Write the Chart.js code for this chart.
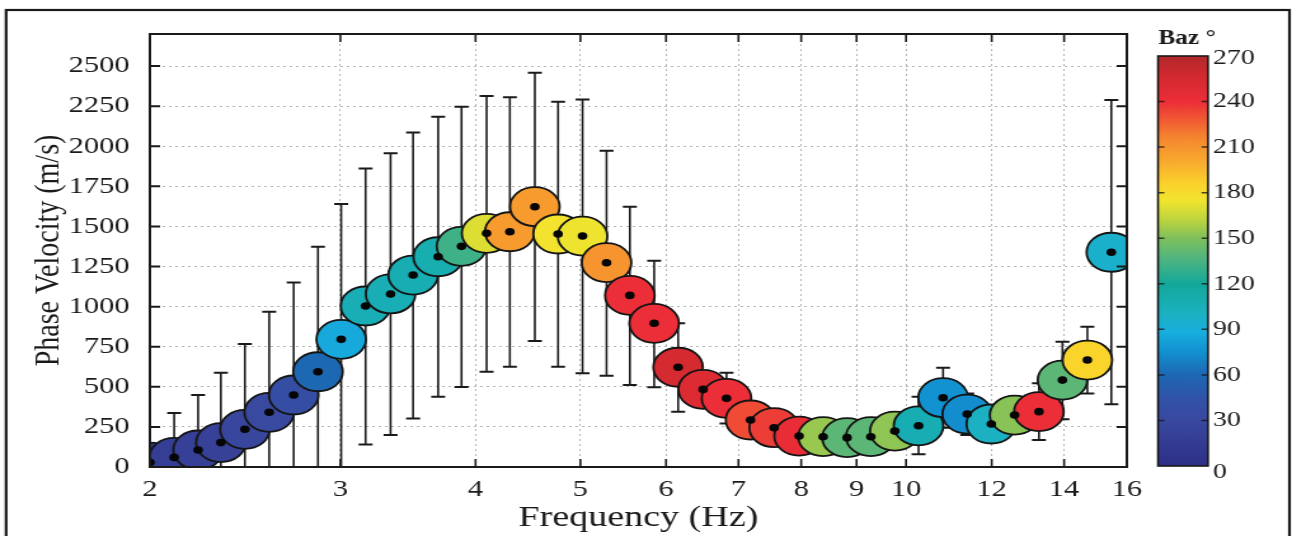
<!DOCTYPE html>
<html><head><meta charset="utf-8">
<script src="https://cdn.jsdelivr.net/npm/chart.js@4/dist/chart.umd.min.js"></script>
<style>
html,body{margin:0;padding:0;background:#fff;overflow:hidden;width:1292px;height:536px}
#c{display:block;transform-origin:0 0;transform:scaleX(1.27040)}
</style></head><body>
<canvas id="c" width="1017" height="536"></canvas>
<script>
// ---- data ----
const frequency = [2.00,2.106,2.216,2.326,2.448,2.578,2.716,2.860,3.005,3.165,3.338,3.502,3.694,3.882,4.095,4.303,4.538,4.768,5.023,5.286,5.555,5.850,6.156,6.493,6.824,7.182,7.552,7.964,8.382,8.820,9.278,9.764,10.27,10.82,11.39,11.99,12.60,13.27,13.95,14.71,15.48];
const velocity  = [30,60,106,152,235,341,449,594,796,1004,1079,1197,1311,1376,1457,1467,1623,1453,1440,1274,1070,896,622,484,428,293,245,193,189,183,189,224,257,432,330,268,324,345,542,667,1339];
const baz       = [15,18,20,22,28,32,38,60,86,106,106,108,110,132,170,207,207,176,174,210,240,240,255,250,240,232,236,242,155,140,140,153,108,76,74,100,152,240,140,184,96];
const errHigh   = [null,337,449,588,767,968,1151,1373,1640,1862,1956,2086,2184,2246,2313,2305,2458,2277,2292,1972,1623,1286,896,560,588,380,300,null,null,null,null,null,438,619,459,null,null,522,781,875,2288];
const errLow    = [null,-217,-237,-284,-297,-286,-253,-185,-48,141,200,303,438,499,594,625,786,625,584,569,511,497,345,410,272,210,190,null,null,null,null,null,79,245,200,null,null,168,297,459,391];
const xTicks = [2,3,4,5,6,7,8,9,10,12,14,16];
const yTicks = [0,250,500,750,1000,1250,1500,1750,2000,2250,2500];
const bazTicks = [0,30,60,90,120,150,180,210,240,270];
const bazStops = [[0,'#2d2f86'],[30,'#3a489f'],[45,'#3053a8'],[60,'#1d68b3'],[75,'#1290d0'],[88,'#18aede'],[100,'#1bb1c2'],[120,'#14a899'],[135,'#4ab383'],[150,'#7fc05c'],[162,'#bcd43e'],[175,'#f2e52e'],[186,'#fbd12c'],[200,'#f8ab2e'],[215,'#f5892f'],[240,'#ec2e38'],[255,'#d52a30'],[270,'#b2282b']];

function hex(c){return [parseInt(c.slice(1,3),16),parseInt(c.slice(3,5),16),parseInt(c.slice(5,7),16)];}
function colorFor(b){
  for(let k=1;k<bazStops.length;k++){
    if(b<=bazStops[k][0]){
      const a=hex(bazStops[k-1][1]), c=hex(bazStops[k][1]);
      const t=(b-bazStops[k-1][0])/(bazStops[k][0]-bazStops[k-1][0]);
      return 'rgb('+a.map((v,i)=>Math.round(v+(c[i]-v)*t)).join(',')+')';
    }
  }
  return bazStops[bazStops.length-1][1];
}

const S = 1292/1017;
const FONT = 'Liberation Serif';
const pts = frequency.map((f,i)=>({x:f,y:velocity[i]}));

const decor = {
  id:'decor',
  beforeDatasetsDraw(chart){
    const {ctx, chartArea:a, scales:{x,y}} = chart;
    ctx.save();
    ctx.beginPath(); ctx.rect(a.left,a.top,a.right-a.left,a.bottom-a.top); ctx.clip();
    ctx.strokeStyle='#1a1a1a';
    for(let i=0;i<frequency.length;i++){
      if(errHigh[i]==null) continue;
      const px=x.getPixelForValue(frequency[i]);
      const yt=y.getPixelForValue(errHigh[i]), yb=y.getPixelForValue(errLow[i]);
      ctx.lineWidth=1.6;
      ctx.beginPath(); ctx.moveTo(px,yt); ctx.lineTo(px,yb); ctx.stroke();
      ctx.lineWidth=2;
      ctx.beginPath(); ctx.moveTo(px-5.5,yt); ctx.lineTo(px+5.5,yt);
      ctx.moveTo(px-5.5,yb); ctx.lineTo(px+5.5,yb); ctx.stroke();
    }
    ctx.restore();
  },
  afterDraw(chart){
    const {ctx, chartArea:a, scales:{x,y}} = chart;
    ctx.save();
    ctx.strokeStyle='#1a1a1a';
    ctx.lineWidth=1.6;
    ctx.beginPath();
    xTicks.forEach(v=>{const px=x.getPixelForValue(v);
      ctx.moveTo(px,a.bottom); ctx.lineTo(px,a.bottom-8);
      ctx.moveTo(px,a.top); ctx.lineTo(px,a.top+8);});
    ctx.stroke();
    ctx.lineWidth=2;
    ctx.beginPath();
    yTicks.forEach(v=>{const py=y.getPixelForValue(v);
      ctx.moveTo(a.left,py); ctx.lineTo(a.left+8,py);
      ctx.moveTo(a.right,py); ctx.lineTo(a.right-8,py);});
    ctx.stroke();
    ctx.lineWidth=2;
    ctx.strokeRect(a.left,a.top,a.right-a.left,a.bottom-a.top);
    ctx.lineWidth=2.2;
    ctx.strokeRect(4.8,10,1015-4.8,540);
    const cx0=1158/S, cx1=1208/S, cy0=56, cy1=466;
    const g=ctx.createLinearGradient(0,cy1,0,cy0);
    bazStops.forEach(s=>g.addColorStop(s[0]/270,s[1]));
    ctx.fillStyle=g; ctx.fillRect(cx0,cy0,cx1-cx0,cy1-cy0);
    ctx.lineWidth=1.6; ctx.strokeStyle='#1a1a1a';
    ctx.strokeRect(cx0,cy0,cx1-cx0,cy1-cy0);
    ctx.lineWidth=1.5; ctx.strokeStyle='rgba(20,20,20,0.75)';
    ctx.beginPath();
    bazTicks.forEach(b=>{ if(b===0||b===270) return; const py=cy1-(cy1-cy0)*b/270;
      ctx.moveTo(cx0,py); ctx.lineTo(cx0+5,py); ctx.moveTo(cx1,py); ctx.lineTo(cx1-5,py);});
    ctx.stroke();
    ctx.fillStyle='#1a1a1a'; ctx.font='22px "'+FONT+'"'; ctx.textAlign='left'; ctx.textBaseline='middle';
    bazTicks.forEach(b=>{const py=cy1-(cy1-cy0)*b/270; ctx.fillText(String(b), 1213/S, py+(b===0?6:b===270?2:0));});
    ctx.font='bold 20px "'+FONT+'"'; ctx.textAlign='center'; ctx.textBaseline='alphabetic';
    ctx.fillText('Baz °', 1187/S, 44);
    ctx.restore();
  }
};

new Chart(document.getElementById('c').getContext('2d'), {
  type:'scatter',
  data:{datasets:[
    {label:'centre', data:pts, pointRadius:3.8, pointHoverRadius:3.8, pointBackgroundColor:'#050505', pointBorderWidth:0, showLine:false, clip:0},
    {label:'baz', data:pts, pointRadius:19.5, pointHoverRadius:19.5, pointBackgroundColor:baz.map(colorFor),
     pointBorderColor:'#151515', pointBorderWidth:1.8, showLine:false, clip:0}
  ]},
  options:{
    responsive:false, animation:false, devicePixelRatio:1, events:[],
    layout:{padding:{top:34,right:130,left:0,bottom:0}},
    plugins:{legend:{display:false}, tooltip:{enabled:false}},
    scales:{
      x:{type:'logarithmic', min:2, max:16,
         afterBuildTicks:s=>{s.ticks=xTicks.map(v=>({value:v}));},
         afterFit:s=>{s.height=69;},
         ticks:{callback:v=>String(v), autoSkip:false, maxRotation:0, padding:8, color:'#1a1a1a', font:{family:FONT,size:24}},
         grid:{color:'#b5b5b5', lineWidth:1, drawTicks:false},
         border:{display:false, dash:[2,3]},
         title:{display:true, text:'Frequency (Hz)', color:'#1a1a1a', font:{family:FONT,size:30,lineHeight:1.2}, padding:{top:0,bottom:0}}},
      y:{type:'linear', min:0, max:2700,
         afterBuildTicks:s=>{s.ticks=yTicks.map(v=>({value:v}));},
         afterFit:s=>{s.width=118;},
         ticks:{callback:v=>String(v), autoSkip:false, padding:16, color:'#1a1a1a', font:{family:FONT,size:24}},
         grid:{color:'#b5b5b5', lineWidth:1, drawTicks:false},
         border:{display:false, dash:[2,3]},
         title:{display:true, text:'Phase Velocity (m/s)', color:'#1a1a1a', font:{family:FONT,size:28,lineHeight:1.2}, padding:{top:22,bottom:0}}}
    }
  },
  plugins:[decor]
});
</script>
</body></html>
